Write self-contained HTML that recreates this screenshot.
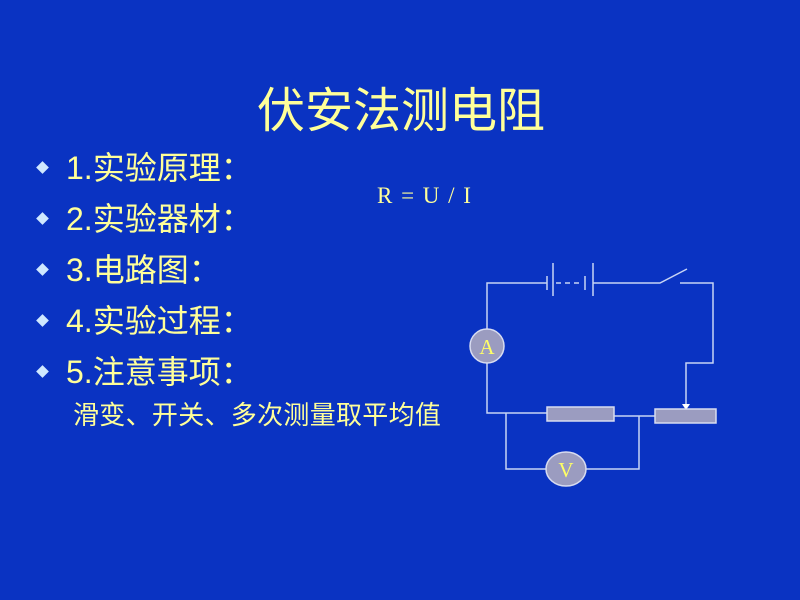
<!DOCTYPE html>
<html><head><meta charset="utf-8"><style>
body{margin:0;width:800px;height:600px;background:#0a33c2;overflow:hidden;position:relative;font-family:"Liberation Sans","Noto Sans CJK SC",sans-serif;color:#ffff99}
.t{position:absolute;white-space:nowrap;line-height:1}
.b{position:absolute;left:38px;width:9px;height:9px;background:#cfe8ff;transform:rotate(45deg)}
</style></head><body>
<div class="t" style="left:257px;top:88px;font-size:48px">伏安法测电阻</div>
<div class="b" style="top:163px"></div><div class="t" style="left:66px;top:152px;font-size:32px">1.实验原理：</div>
<div class="b" style="top:214px"></div><div class="t" style="left:66px;top:203px;font-size:32px">2.实验器材：</div>
<div class="b" style="top:265px"></div><div class="t" style="left:66px;top:254px;font-size:32px">3.电路图：</div>
<div class="b" style="top:316px"></div><div class="t" style="left:66px;top:305px;font-size:32px">4.实验过程：</div>
<div class="b" style="top:367px"></div><div class="t" style="left:66px;top:356px;font-size:32px">5.注意事项：</div>
<div class="t" style="left:73px;top:402px;font-size:26px;letter-spacing:0.3px">滑变、开关、多次测量取平均值</div>
<div class="t" style="left:377px;top:184px;font-size:23px;letter-spacing:1.5px;font-family:'Liberation Serif',serif">R = U / I</div>
<svg width="800" height="600" style="position:absolute;left:0;top:0" fill="none" stroke="#c8d4f4" stroke-width="1.5">
<path d="M487 329V283H547M593 283H660L687 269M680 283H713V363H686V405"/>
<path d="M547 276V290M553 263V296M585 276V290M593 263V296"/>
<path d="M556 283H582" stroke-dasharray="5,4"/>
<polygon points="682,404 690,404 686,410" fill="#fff" stroke="none"/>
<path d="M487 363V413H547M614 416H655M506 413V469H546M586 469H639V416"/>
<rect x="547" y="407" width="67" height="14" fill="#9b9cc0" stroke="#d8dcf0"/>
<rect x="655" y="409" width="61" height="14" fill="#9b9cc0" stroke="#d8dcf0"/>
<circle cx="487" cy="346" r="17" fill="#9b9cc0" stroke="#d8dcf0"/>
<ellipse cx="566" cy="469" rx="20" ry="17" fill="#9b9cc0" stroke="#d8dcf0"/>
<text x="487" y="354" fill="#ffff66" stroke="none" font-family="Liberation Serif" font-size="21" text-anchor="middle">A</text>
<text x="566" y="477" fill="#ffff66" stroke="none" font-family="Liberation Serif" font-size="21" text-anchor="middle">V</text>
</svg>
</body></html>
